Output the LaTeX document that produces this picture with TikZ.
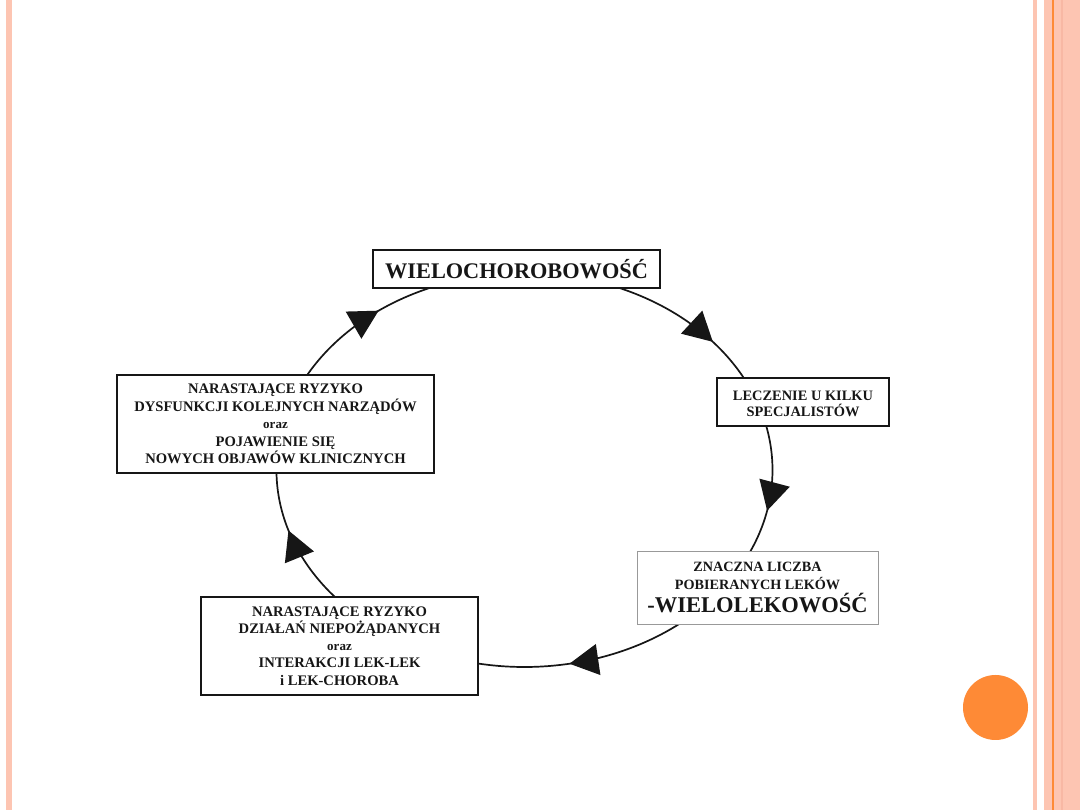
\documentclass[tikz,border=0pt]{standalone}
\usepackage{fontspec}
\setmainfont{Liberation Serif}
\usetikzlibrary{arrows.meta,decorations.markings,calc}
\definecolor{salmon}{RGB}{253,197,178}
\definecolor{salmondk}{RGB}{248,184,164}
\definecolor{orng}{RGB}{254,138,54}
\definecolor{ink}{RGB}{22,22,22}
\begin{document}
\begin{tikzpicture}[x=1pt,y=1pt,
  box/.style={draw=ink, line width=1.3pt, fill=white, inner sep=0pt, align=center, text=ink,
    font=\bfseries\fontsize{14.5}{17.3}\selectfont},
  conn/.style={line width=1.7pt, draw=ink, postaction={decorate},
    decoration={markings, mark=at position #1 with {\arrow[ink]{Triangle[length=29pt,width=31pt]}}}},
  small/.style={font=\bfseries\fontsize{13}{17}\selectfont}]
\useasboundingbox (0,0) rectangle (1080,810);
\fill[white] (0,0) rectangle (1080,810);
% slide decorations
\fill[salmon] (6,0) rectangle (12,810);
\fill[salmon] (1032.7,0) rectangle (1036.7,810);
\fill[salmon] (1044,0) rectangle (1080,810);
\fill[salmondk] (1060.7,0) rectangle (1062.7,810);
\fill[orng] (1051.7,0) rectangle (1053.7,810);
\fill[orng] (995.5,102.5) circle[radius=32.5];
% cycle
\coordinate (O) at (524.5,340);
\coordinate (e1) at ($(O)+(90:248 and 197)$);
\coordinate (e2) at ($(O)+(20:248 and 197)$);
\coordinate (e3) at ($(O)+(-37:248 and 197)$);
\coordinate (e4) at ($(O)+(-110:248 and 197)$);
\coordinate (e5) at ($(O)+(165:248 and 197)$);
\draw[conn=0.73] (e1) arc[start angle=90, end angle=20, x radius=248, y radius=197];
\draw[conn=0.55] (e2) arc[start angle=20, end angle=-37, x radius=248, y radius=197];
\draw[conn=0.57] (e3) arc[start angle=-37, end angle=-110, x radius=248, y radius=197];
\draw[conn=0.64] (e4) arc[start angle=-110, end angle=-195, x radius=248, y radius=197];
\draw[conn=0.49] (e5) arc[start angle=165, end angle=90, x radius=248, y radius=197];
% boxes
\node[box, line width=1.8pt, minimum width=287, minimum height=38, font=\bfseries\fontsize{22.3}{24}\selectfont]
  (wielo) at (516.5,541) {WIELOCHOROBOWOŚĆ};
\node[box, minimum width=172, minimum height=48, font=\bfseries\fontsize{14.4}{16}\selectfont]
  (leczenie) at (803,408) {\rule{0pt}{13pt}LECZENIE U KILKU\\SPECJALISTÓW};
\node[box, draw=black!40, line width=0.9pt, minimum width=241, minimum height=73, font=\bfseries\fontsize{14.2}{18}\selectfont]
  (znaczna) at (757.5,222.5) {ZNACZNA LICZBA\\POBIERANYCH LEKÓW\\[3pt]{\fontsize{22.5}{24}\selectfont -WIELOLEKOWOŚĆ}};
\node[box, minimum width=277, minimum height=98, font=\bfseries\fontsize{14.6}{17.2}\selectfont]
  (interakcje) at (339.5,164) {NARASTAJĄCE RYZYKO\\DZIAŁAŃ NIEPOŻĄDANYCH\\{\fontsize{13}{17}\selectfont oraz}\\INTERAKCJI LEK-LEK\\i LEK-CHOROBA};
\node[box, minimum width=317, minimum height=98, font=\bfseries\fontsize{14.6}{17.4}\selectfont]
  (dysfunkcje) at (275.5,386) {NARASTAJĄCE RYZYKO\\DYSFUNKCJI KOLEJNYCH NARZĄDÓW\\{\fontsize{13}{17}\selectfont oraz}\\POJAWIENIE SIĘ\\NOWYCH OBJAWÓW KLINICZNYCH};
\end{tikzpicture}
\end{document}
